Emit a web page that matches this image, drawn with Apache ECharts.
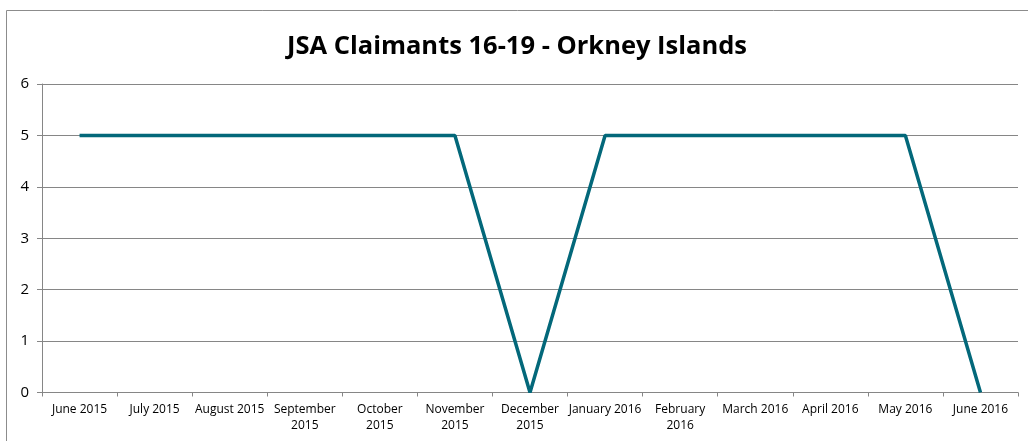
<!DOCTYPE html>
<html><head><meta charset="utf-8">
<script src="https://cdn.jsdelivr.net/npm/echarts@6/dist/echarts.min.js"></script>
<style>html,body{margin:0;padding:0;background:#fff}#c{width:1028px;height:441px}</style>
</head><body><div id="c"></div>
<script>
const titleText = 'JSA Claimants 16-19 - Orkney Islands';
const categories = ['June 2015','July 2015','August 2015','September\n2015','October\n2015','November\n2015','December\n2015','January 2016','February\n2016','March 2016','April 2016','May 2016','June 2016'];
const claimants = [5,5,5,5,5,5,0,5,5,5,5,5,0];
const yTicks = {min:0, max:6, interval:1};

const chart = echarts.init(document.getElementById('c'));
chart.setOption({
  animation:false,
  backgroundColor:'#fff',
  graphic:[{type:'rect', shape:{x:6.5,y:10.5,width:1100,height:600}, style:{fill:'none', stroke:'#8c8c8c', lineWidth:1}, silent:true}],
  title:{text:titleText, left:512, textAlign:'center', top:29,
    textStyle:{fontFamily:'Open Sans', fontWeight:'bold', fontSize:25.5, color:'#000'}},
  grid:{left:42, right:10, top:84, bottom:48.5, containLabel:false},
  xAxis:{type:'category', data:categories, boundaryGap:true,
    axisLine:{lineStyle:{color:'#868686', width:1}},
    axisTick:{show:true, alignWithLabel:false, length:4, lineStyle:{color:'#868686'}},
    axisLabel:{interval:0, color:'#000', fontFamily:'Open Sans', fontSize:12, lineHeight:16, margin:9}},
  yAxis:{type:'value', min:yTicks.min, max:yTicks.max, interval:yTicks.interval,
    axisLine:{show:true, lineStyle:{color:'#868686'}},
    axisTick:{show:true, length:5, lineStyle:{color:'#868686'}},
    splitLine:{lineStyle:{color:'#868686', width:1}},
    axisLabel:{color:'#000', fontFamily:'Open Sans', fontSize:15, margin:13}},
  series:[{type:'line', data:claimants, symbol:'none', lineStyle:{color:'#03687a', width:3.5}, itemStyle:{color:'#03687a'}}]
});
</script></body></html>
